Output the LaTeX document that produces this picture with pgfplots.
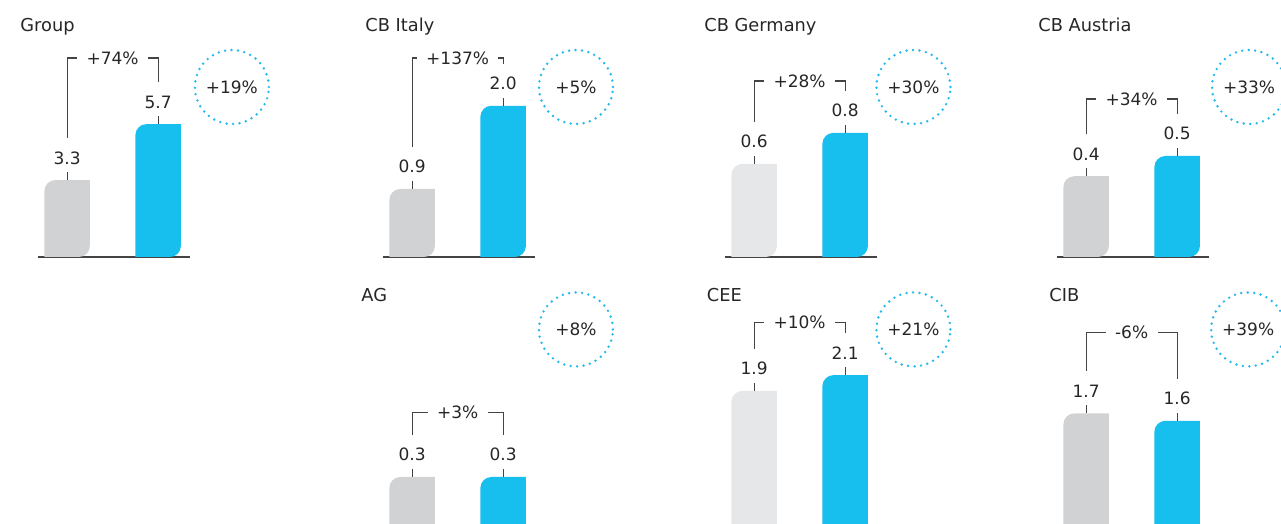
\documentclass[border=0pt]{standalone}
\usepackage{fontspec}
\setmainfont{DejaVu Sans}
\usepackage{pgfplots}
\pgfplotsset{compat=1.18}
\definecolor{cyanbar}{HTML}{17BFEF}
\definecolor{greybar}{HTML}{D1D2D4}
\definecolor{lightgrey}{HTML}{E6E7E8}
\definecolor{dotcol}{HTML}{22B9EC}
\definecolor{txt}{HTML}{262626}
\definecolor{linecol}{HTML}{444444}
\newcommand\numfont{\fontsize{8.5}{10}\selectfont}
\newcommand\titfont{\fontsize{8.9}{10.5}\selectfont}
\tikzset{
 leaf/.style={path picture={\fill[#1, path picture={}] (path picture bounding box.south west) -- ([yshift=-5.5pt]path picture bounding box.north west) arc[start angle=180,end angle=90,radius=5.5pt] -- (path picture bounding box.north east) -- ([yshift=5.5pt]path picture bounding box.south east) arc[start angle=0,end angle=-90,radius=5.5pt] -- cycle;}},
 tick/.style={draw=linecol, line width=0.6pt},
 val/.style={anchor=base, inner sep=0pt, font=\numfont, text=txt},
 pct/.style={anchor=center, inner xsep=4.5pt, inner ysep=0pt, font=\numfont, text=txt},
 circ/.style={circle, minimum size=37pt, inner sep=0pt, draw=dotcol, line width=1.35pt, line cap=round, dash pattern=on 0pt off 3.25pt, font=\numfont, text=txt},
 ttl/.style={anchor=base west, inner sep=0pt, font=\titfont, text=txt},
}
\pgfplotsset{panel/.style={scale only axis, width=76pt, height=100pt, anchor=south west,
  xmin=-0.32, xmax=1.35, ymin=0, axis x line*=bottom, axis y line=none,
  xtick=\empty, ytick=\empty, x axis line style={draw=linecol, line width=0.6pt}, clip=false}}
\def\gcol{greybar}
% #1 x, #2 y, #3 ymax, #4 v1, #5 v2, #6 bracket pct, #7 bracket height, #8 circle pct, #9 circle coordinate
\newcommand{\panel}[9]{%
\begin{axis}[panel, at={(#1,#2)}, ymax=#3]
\addplot[ybar, bar width=0.5, bar shift=0pt, draw=none, leaf=\gcol] coordinates {(0,#4)};
\addplot[ybar, bar width=0.5, bar shift=0pt, draw=none, leaf=cyanbar] coordinates {(1,#5)};
\draw[tick] (axis cs:0,#4) -- ([yshift=4pt]axis cs:0,#4);
\draw[tick] (axis cs:1,#5) -- ([yshift=4pt]axis cs:1,#5);
\node[val] at ([yshift=8pt]axis cs:0,#4) {#4};
\node[val] at ([yshift=8pt]axis cs:1,#5) {#5};
\node[pct] (b) at ([yshift=#7]axis cs:0.5,0) {#6};
\draw[tick] ([yshift=21pt]axis cs:0,#4) |- (b.west);
\draw[tick] ([yshift=21pt]axis cs:1,#5) |- (b.east);
\node[circ] at (#9) {#8};
\end{axis}}
\begin{document}
\begin{tikzpicture}
\clip (0,0) rectangle (640.5pt,262pt);
\node[ttl] at (10pt,246.15pt) {Group};
\node[ttl] at (182.5pt,246.15pt) {CB Italy};
\node[ttl] at (352pt,246.15pt) {CB Germany};
\node[ttl] at (519pt,246.15pt) {CB Austria};
\node[ttl] at (180.5pt,111.15pt) {AG};
\node[ttl] at (353.25pt,111.15pt) {CEE};
\node[ttl] at (524.5pt,111.15pt) {CIB};
\def\gcol{greybar}
\panel{19pt}{133.5pt}{8.58}{3.3}{5.7}{+74\%}{99.5pt}{+19\%}{[yshift=85pt]axis cs:1.81,0}
\panel{191.5pt}{133.5pt}{2.645}{0.9}{2.0}{+137\%}{99.5pt}{+5\%}{[yshift=85pt]axis cs:1.80,0}
\panel{528.5pt}{133.5pt}{0.990}{0.4}{0.5}{+34\%}{79pt}{+33\%}{[yshift=85pt]axis cs:1.79,0}
\panel{191.5pt}{-8pt}{0.952}{0.3}{0.3}{+3\%}{63.7pt}{+8\%}{[yshift=105.3pt]axis cs:1.80,0}
\panel{528.5pt}{-8pt}{2.685}{1.7}{1.6}{-6\%}{103.7pt}{+39\%}{[yshift=105.3pt]axis cs:1.78,0}
\def\gcol{lightgrey}
\panel{362.5pt}{133.5pt}{1.289}{0.6}{0.8}{+28\%}{88pt}{+30\%}{[yshift=85pt]axis cs:1.75,0}
\panel{362.5pt}{-8pt}{2.548}{1.9}{2.1}{+10\%}{108.8pt}{+21\%}{[yshift=105.3pt]axis cs:1.75,0}
\end{tikzpicture}
\end{document}
